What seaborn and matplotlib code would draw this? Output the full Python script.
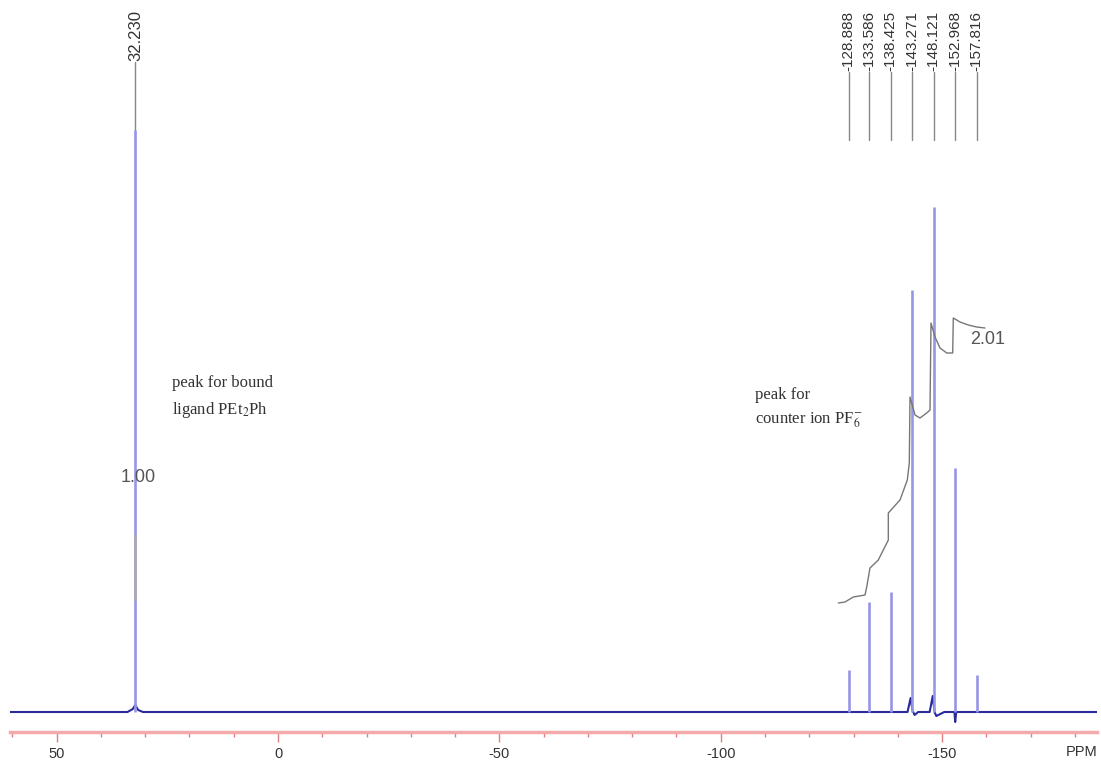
import matplotlib
matplotlib.use("Agg")
import matplotlib.pyplot as plt
import matplotlib.transforms as mtransforms
from matplotlib.ticker import MultipleLocator
import pandas as pd
import seaborn as sns

# peak picking (ppm) and peak heights (arbitrary units above baseline)
peak_ppm = [32.230, -128.888, -133.586, -138.425, -143.271, -148.121, -152.968, -157.816]
peak_height = [582, 42, 110, 120, 422, 505, 244, 37]

# baseline trace with the small features near the peak feet
trace_ppm = [60.5, 34.0, 32.8, 32.23, 31.6, 30.5, -142.2, -142.9, -143.3, -143.8, -144.6,
             -147.2, -147.9, -148.3, -148.7, -149.6, -150.5, -152.8, -152.97, -153.2, -185.0]
trace_int = [0, 0, 3, 7, 2, 0, 0, 14, 2, -3, 0,
             0, 16, 0, -4, -2, 0, 0, -10, 0, 0]

# integral curve over the PF6 septet
integ_ppm = [-126.57, -128.08, -129.95, -132.60, -132.98, -133.72, -135.60, -137.86, -137.86,
             -140.50, -142.15, -142.60, -142.76, -143.89, -145.02, -146.53, -147.28, -147.50,
             -148.41, -149.54, -151.05, -152.40, -152.54, -154.05, -155.93, -157.83, -159.70]
integ_int = [109, 110, 115, 117, 125, 144, 152, 172, 199,
             212, 232, 249, 315, 297, 294, 299, 302, 389,
             375, 364, 359, 359, 394, 390, 387, 385, 384]

# integral of the 32.23 ppm peak
integ1_ppm = [32.23, 32.23]
integ1_int = [112, 177]

integral_labels = ["1.00", "2.01"]
tick_values = [50, 0, -50, -100, -150]
tick_labels = ["50", "0", "-50", "-100", "-150"]


def main():
    sns.set_style("white")
    plt.rcParams["font.family"] = ["Liberation Sans", "DejaVu Sans"]
    plt.rcParams["mathtext.fontset"] = "stix"

    fig = plt.figure(figsize=(11.01, 7.61), dpi=100)
    ax = fig.add_axes([10 / 1101, 29 / 761, 1087 / 1101, 732 / 761])

    blue_dark = "#2a2a9c"
    blue_peak = "#9696e6"
    grey = "#777777"

    trace = pd.DataFrame({"ppm": trace_ppm, "int": trace_int})
    sns.lineplot(data=trace, x="ppm", y="int", sort=False, estimator=None,
                 color=blue_dark, lw=1.5, ax=ax)
    ax.vlines(peak_ppm, 0, peak_height, color=blue_peak, lw=1.9, zorder=3)

    integ = pd.DataFrame({"ppm": integ_ppm, "int": integ_int})
    sns.lineplot(data=integ, x="ppm", y="int", sort=False, estimator=None,
                 color=grey, lw=1.0, ax=ax, zorder=4)
    ax.plot(integ1_ppm, integ1_int, color="#aaaaaa", lw=1.8, zorder=4)

    # peak labels with connector lines
    for p, h in zip(peak_ppm, peak_height):
        base = 650 if p > 0 else 640
        ax.plot([p, p], [max(h, 572), base], color="#888888", lw=1.0, zorder=2)
        ax.text(p, base + 1, f"{p:.3f}", rotation=90, ha="center", va="bottom",
                fontsize=12 if p > 0 else 11, color="#333333")

    ax.text(31.6, 234, integral_labels[0], ha="center", va="center",
            fontsize=13, color="#555555", zorder=5)
    ax.text(-160.2, 372, integral_labels[1], ha="center", va="center",
            fontsize=13, color="#555555", zorder=5)

    serif = ["Liberation Serif", "DejaVu Serif"]
    ax.text(23.9, 329, "peak for bound", family=serif, fontsize=12,
            ha="left", va="center", color="#333333")
    ax.text(23.9, 302, "ligand PEt$_2$Ph", family=serif, fontsize=12,
            ha="left", va="center", color="#333333")
    ax.text(-107.8, 317, "peak for", family=serif, fontsize=12,
            ha="left", va="center", color="#333333")
    ax.text(-107.8, 292, "counter ion PF$_6^{-}$", family=serif, fontsize=12,
            ha="left", va="center", color="#333333")

    ax.set_xlim(60.54, -185.0)
    ax.set_ylim(-20, 712)
    ax.set_xlabel("")
    ax.set_ylabel("")
    ax.set_yticks([])
    ax.set_xticks(tick_values)
    ax.set_xticklabels(tick_labels)
    ax.xaxis.set_minor_locator(MultipleLocator(10))

    for side in ["left", "right", "top"]:
        ax.spines[side].set_visible(False)
    ax.spines["bottom"].set_color("#f4aaaa")
    ax.spines["bottom"].set_linewidth(2.5)
    ax.tick_params(axis="x", which="major", direction="out", length=7, width=1,
                   color="#e08080", pad=3.5, labelsize=10.5, labelcolor="#333333")
    ax.tick_params(axis="x", which="minor", direction="out", length=3.5, width=1,
                   color="#e08080")
    ax.tick_params(axis="x", bottom=True, which="both")

    trans = mtransforms.blended_transform_factory(ax.transData, ax.transAxes)
    ax.text(-181.6, -0.028, "PPM", transform=trans, ha="center", va="center",
            fontsize=10.5, color="#333333", clip_on=False)

    fig.savefig("out.png", dpi=100, facecolor="white")


if __name__ == "__main__":
    main()
